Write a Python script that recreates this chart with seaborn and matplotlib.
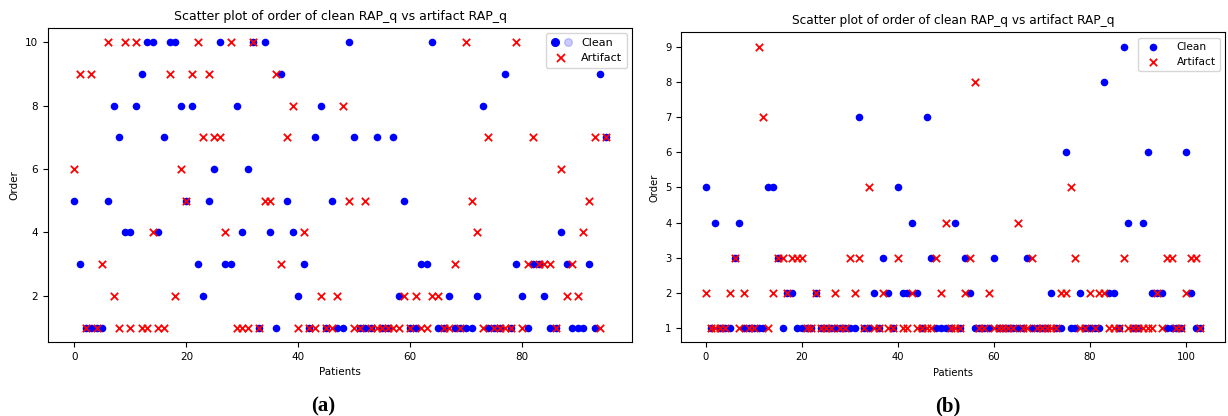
import numpy as np
import matplotlib
matplotlib.use("Agg")
import matplotlib.pyplot as plt
import seaborn as sns
from matplotlib.lines import Line2D
from matplotlib.legend_handler import HandlerTuple

# panel (a): order per patient
clean_a = [5, 3, 1, 1, 1, 1, 5, 8, 7, 4,
           4, 8, 9, 10, 10, 4, 7, 10, 10, 8,
           5, 8, 3, 2, 5, 6, 10, 3, 3, 8,
           4, 6, 10, 1, 10, 4, 1, 9, 5, 4,
           2, 3, 1, 7, 8, 1, 5, 1, 1, 10,
           7, 1, 1, 1, 7, 1, 1, 7, 2, 5,
           1, 1, 3, 3, 10, 1, 1, 2, 1, 1,
           1, 1, 2, 8, 1, 1, 1, 9, 1, 3,
           2, 1, 3, 3, 2, 1, 1, 4, 3, 1,
           1, 1, 3, 1, 9, 7]
artifact_a = [6, 9, 1, 9, 1, 3, 10, 2, 1, 10,
              1, 10, 1, 1, 4, 1, 1, 9, 2, 6,
              5, 9, 10, 7, 9, 7, 7, 4, 10, 1,
              1, 1, 10, 1, 5, 5, 9, 3, 7, 8,
              1, 4, 1, 1, 2, 1, 1, 2, 8, 5,
              1, 1, 5, 1, 1, 1, 1, 1, 1, 2,
              1, 2, 1, 1, 2, 2, 1, 1, 3, 1,
              10, 5, 4, 1, 7, 1, 1, 1, 1, 10,
              1, 3, 7, 3, 3, 3, 1, 6, 2, 3,
              2, 4, 5, 7, 1, 7]

# panel (b)
clean_b = [5, 1, 4, 1, 1, 1, 3, 4, 1, 1,
           1, 1, 1, 5, 5, 3, 1, 2, 2, 1,
           1, 1, 1, 2, 1, 1, 1, 1, 1, 1,
           1, 1, 7, 1, 1, 2, 1, 3, 2, 1,
           5, 2, 2, 4, 2, 1, 7, 3, 1, 1,
           1, 1, 4, 1, 3, 2, 1, 1, 1, 1,
           3, 1, 1, 1, 1, 1, 1, 3, 1, 1,
           1, 1, 2, 1, 1, 6, 1, 1, 2, 1,
           1, 1, 1, 8, 2, 2, 1, 9, 4, 1,
           1, 4, 6, 2, 2, 2, 1, 1, 1, 1,
           6, 2, 1, 1]
artifact_b = [2, 1, 1, 1, 1, 2, 3, 1, 2, 1,
              1, 9, 7, 1, 2, 3, 3, 2, 3, 3,
              3, 1, 1, 2, 1, 1, 1, 2, 1, 1,
              3, 2, 3, 1, 5, 1, 1, 2, 1, 1,
              3, 1, 1, 2, 1, 1, 1, 1, 3, 2,
              4, 1, 1, 1, 2, 3, 8, 1, 1, 2,
              1, 1, 1, 1, 1, 4, 1, 1, 3, 1,
              1, 1, 1, 1, 2, 2, 5, 3, 1, 1,
              2, 1, 2, 2, 1, 1, 1, 3, 1, 1,
              1, 1, 1, 1, 2, 1, 3, 3, 1, 1,
              2, 3, 3, 1]

fig = plt.figure(figsize=(12.28, 4.16), dpi=100)
ax1 = fig.add_axes([0.039, 0.178, 0.476, 0.755])
ax2 = fig.add_axes([0.5546, 0.177, 0.443, 0.745])


def draw(ax, clean, artifact, fs):
    x = np.arange(len(clean))
    sns.scatterplot(x=x, y=clean, ax=ax, color="blue", marker="o", s=30,
                    linewidth=0, label="Clean")
    sns.scatterplot(x=x, y=artifact, ax=ax, color="red", marker="x", s=28,
                    linewidth=1.3, label="Artifact")
    ax.set_title("Scatter plot of order of clean RAP_q vs artifact RAP_q",
                 fontsize=fs + 1.5)
    ax.set_xlabel("Patients", fontsize=fs)
    ax.set_ylabel("Order", fontsize=fs)
    ax.tick_params(labelsize=fs)


draw(ax1, clean_a, artifact_a, 7.5)
draw(ax2, clean_b, artifact_b, 7.2)
ax2.set_yticks(range(1, 10))

# left legend shows two clean markers (one faded)
h_dark = Line2D([], [], marker="o", color="blue", ls="", ms=5.5)
h_light = Line2D([], [], marker="o", color="blue", alpha=0.2, ls="", ms=5.5)
h_x = Line2D([], [], marker="x", color="red", ls="", ms=5.5, mew=1.3)
ax1.legend([(h_dark, h_light), h_x], ["Clean", "Artifact"], loc="upper right",
           fontsize=8, handler_map={tuple: HandlerTuple(ndivide=None)})
ax2.legend(loc="upper right", fontsize=7.6, handletextpad=1.2)

fig.text(0.263, 0.012, "(a)", fontsize=15, fontweight="bold",
         family="Liberation Serif", ha="center")
fig.text(0.772, 0.012, "(b)", fontsize=15, fontweight="bold",
         family="Liberation Serif", ha="center")

fig.savefig("out.png", dpi=100)
